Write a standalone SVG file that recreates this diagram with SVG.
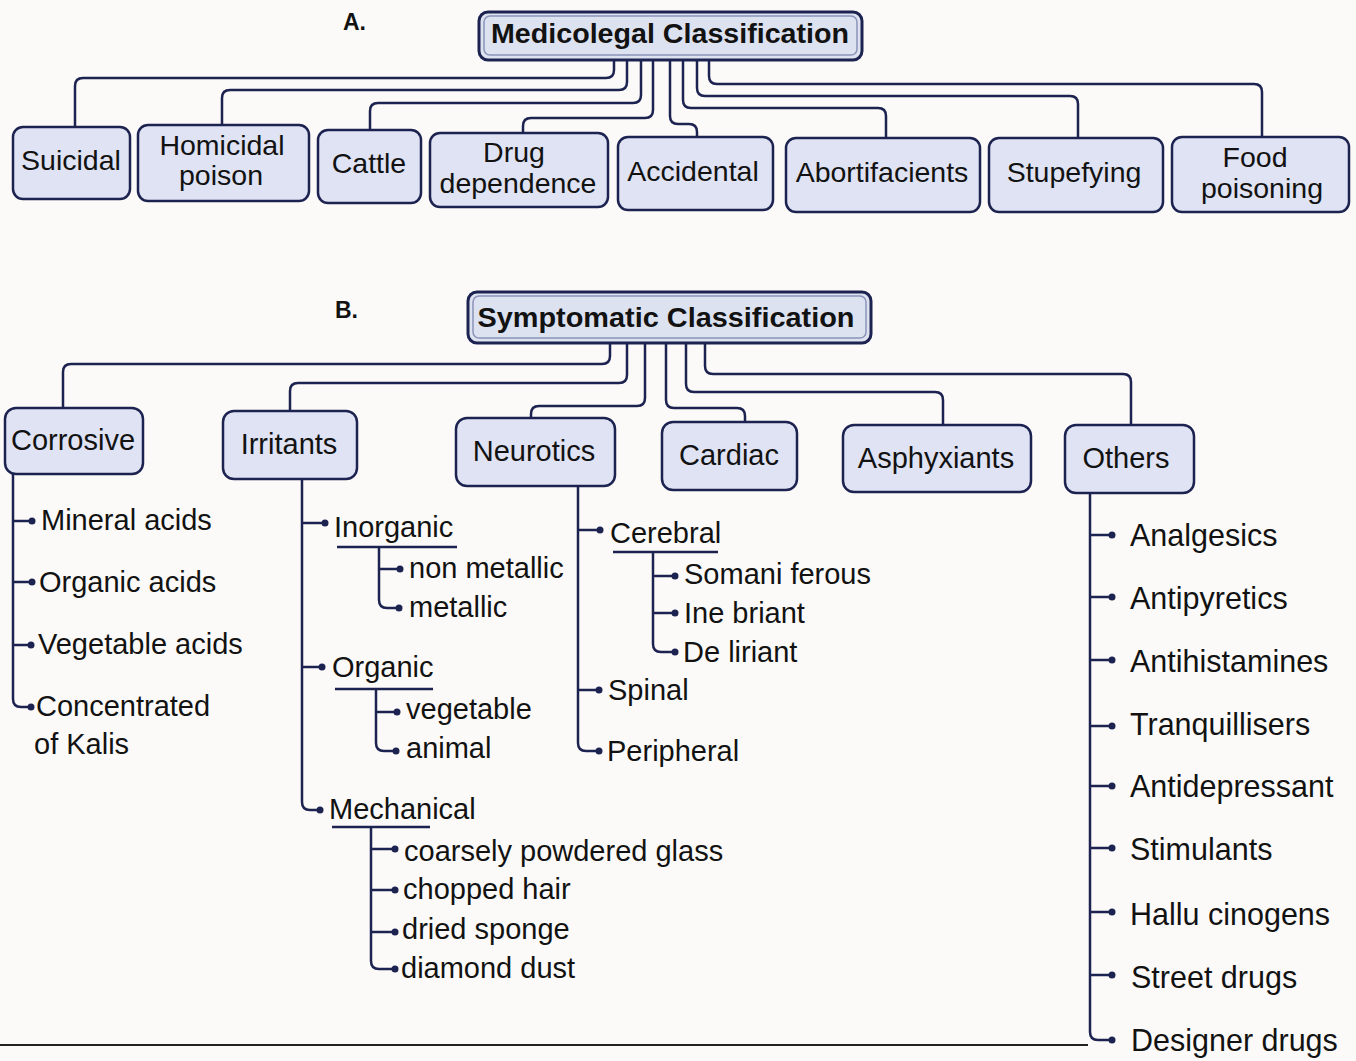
<svg xmlns="http://www.w3.org/2000/svg" width="1356" height="1061" viewBox="0 0 1356 1061">
  <style>
    text { font-family: "Liberation Sans", Arial, sans-serif; fill: #121212; }
    .title { font-size: 28px; font-weight: bold; text-anchor: middle; }
    .sec { font-size: 23px; font-weight: bold; }
    .a { font-size: 28.5px; text-anchor: middle; }
    .b { font-size: 29px; text-anchor: middle; }
    .li { font-size: 29px; }
    .lr { font-size: 30.5px; }
    .box { fill: #dfe3f3; stroke: #1d2350; stroke-width: 2.5; }
    .hdr { fill: #dde2f1; stroke: #1d2350; stroke-width: 3; }
    .hdr-in { fill: none; stroke: #8b94b8; stroke-width: 1.5; }
    .ln { fill: none; stroke: #1d2350; stroke-width: 2.5; }
    .dot { fill: #1d2350; }
  </style>

  <rect width="1356" height="1061" fill="#fbfaf8"/>

  <!-- Section labels -->
  <text class="sec" x="343" y="30">A.</text>
  <text class="sec" x="335" y="318">B.</text>

  <!-- Connectors -->
  <g id="connectors">
    <!-- A: medicolegal branches -->
    <path class="ln" d="M614,56 V70 Q614,78 606,78 H83 Q75,78 75,86 V127"/>
    <path class="ln" d="M627,56 V82 Q627,90 619,90 H230 Q222,90 222,98 V125"/>
    <path class="ln" d="M641,56 V95 Q641,103 633,103 H378 Q370,103 370,111 V130"/>
    <path class="ln" d="M653,56 V110 Q653,118 645,118 H531 Q523,118 523,126 V133"/>
    <path class="ln" d="M670,56 V116 Q670,124 678,124 H689 Q697,124 697,132 V137"/>
    <path class="ln" d="M683,56 V100 Q683,108 691,108 H878 Q886,108 886,116 V138"/>
    <path class="ln" d="M697,56 V88 Q697,96 705,96 H1070 Q1078,96 1078,104 V138"/>
    <path class="ln" d="M709,56 V76 Q709,84 717,84 H1254 Q1262,84 1262,92 V137"/>

    <!-- B: symptomatic branches -->
    <path class="ln" d="M610,340 V356 Q610,364 602,364 H71 Q63,364 63,372 V408"/>
    <path class="ln" d="M627,340 V375 Q627,383 619,383 H298 Q290,383 290,391 V411"/>
    <path class="ln" d="M645,340 V398 Q645,406 637,406 H539 Q531,406 531,414 V418"/>
    <path class="ln" d="M666,340 V400 Q666,408 674,408 H737 Q745,408 745,416 V422"/>
    <path class="ln" d="M686,340 V384 Q686,392 694,392 H935 Q943,392 943,400 V425"/>
    <path class="ln" d="M705,340 V366 Q705,374 713,374 H1123 Q1131,374 1131,382 V425"/>

    <!-- Corrosive list -->
    <path class="ln" d="M13,474 V699 Q13,707 21,707 H30 M13,521 H30 M13,582 H30 M13,645 H30"/>
    <!-- Irritants list -->
    <path class="ln" d="M302,479 V802 Q302,810 310,810 H318 M302,523 H322 M302,667 H320"/>
    <path class="ln" d="M337,547 H457 M379,547 V600 Q379,608 387,608 H396 M379,569 H397"/>
    <path class="ln" d="M335,689 H433 M376,689 V743 Q376,751 384,751 H393 M376,712 H394"/>
    <path class="ln" d="M332,827 H430 M371,827 V961 Q371,969 379,969 H392 M371,849 H392 M371,890 H392 M371,932 H392"/>
    <!-- Neurotics list -->
    <path class="ln" d="M578,486 V743 Q578,751 586,751 H596 M578,530 H597 M578,690 H596"/>
    <path class="ln" d="M613,552 H718 M653,552 V644 Q653,652 661,652 H672 M653,576 H672 M653,613 H672"/>
    <!-- Others list -->
    <path class="ln" d="M1090,493 V1032 Q1090,1040 1098,1040 H1110 M1090,535 H1110 M1090,597 H1110 M1090,660 H1110 M1090,726 H1110 M1090,786 H1110 M1090,848 H1110 M1090,912 H1110 M1090,975 H1110"/>

    <!-- header dots -->
    <g class="dot">
      <circle cx="614" cy="56" r="4"/><circle cx="627" cy="56" r="4"/>
      <circle cx="641" cy="56" r="4"/><circle cx="653" cy="56" r="4"/>
      <circle cx="670" cy="56" r="4"/><circle cx="683" cy="56" r="4"/>
      <circle cx="697" cy="56" r="4"/><circle cx="709" cy="56" r="4"/>
      <circle cx="610" cy="340" r="4"/><circle cx="627" cy="340" r="4"/>
      <circle cx="645" cy="340" r="4"/><circle cx="666" cy="340" r="4"/>
      <circle cx="686" cy="340" r="4"/><circle cx="705" cy="340" r="4"/>
    </g>
    <!-- list bullet dots -->
    <g class="dot">
      <circle cx="32" cy="521" r="3.5"/><circle cx="32" cy="582" r="3.5"/>
      <circle cx="31" cy="645" r="3.5"/><circle cx="31" cy="707" r="3.5"/>
      <circle cx="325" cy="523" r="3.5"/><circle cx="400" cy="569" r="3.5"/>
      <circle cx="399" cy="608" r="3.5"/><circle cx="322" cy="667" r="3.5"/>
      <circle cx="397" cy="712" r="3.5"/><circle cx="396" cy="751" r="3.5"/>
      <circle cx="320" cy="810" r="3.5"/>
      <circle cx="395" cy="849" r="3.5"/><circle cx="395" cy="890" r="3.5"/>
      <circle cx="395" cy="932" r="3.5"/><circle cx="395" cy="969" r="3.5"/>
      <circle cx="600" cy="530" r="3.5"/><circle cx="675" cy="576" r="3.5"/>
      <circle cx="675" cy="613" r="3.5"/><circle cx="675" cy="652" r="3.5"/>
      <circle cx="599" cy="690" r="3.5"/><circle cx="599" cy="751" r="3.5"/>
      <circle cx="1112" cy="535" r="3.5"/><circle cx="1112" cy="597" r="3.5"/>
      <circle cx="1112" cy="660" r="3.5"/><circle cx="1112" cy="726" r="3.5"/>
      <circle cx="1112" cy="786" r="3.5"/><circle cx="1112" cy="848" r="3.5"/>
      <circle cx="1112" cy="912" r="3.5"/><circle cx="1112" cy="975" r="3.5"/>
      <circle cx="1112" cy="1040" r="3.5"/>
    </g>
  </g>

  <!-- A. Medicolegal classification -->
  <g id="medicolegal">
    <rect class="hdr" x="479" y="12" width="383" height="48" rx="9"/>
    <rect class="hdr-in" x="484" y="16" width="373" height="39" rx="6"/>
    <text class="title" x="670" y="43" textLength="358" lengthAdjust="spacingAndGlyphs">Medicolegal Classification</text>
  </g>
  <g id="suicidal">
    <rect class="box" x="13" y="127" width="117" height="72" rx="10"/>
    <text class="a" x="71" y="170">Suicidal</text>
  </g>
  <g id="homicidal">
    <rect class="box" x="138" y="125" width="171" height="76" rx="10"/>
    <text class="a" x="222" y="155">Homicidal</text>
    <text class="a" x="221" y="185">poison</text>
  </g>
  <g id="cattle">
    <rect class="box" x="318" y="130" width="103" height="73" rx="10"/>
    <text class="a" x="369" y="173">Cattle</text>
  </g>
  <g id="drug-dependence">
    <rect class="box" x="430" y="133" width="178" height="74" rx="10"/>
    <text class="a" x="514" y="162">Drug</text>
    <text class="a" x="518" y="193">dependence</text>
  </g>
  <g id="accidental">
    <rect class="box" x="618" y="137" width="155" height="73" rx="10"/>
    <text class="a" x="693" y="181">Accidental</text>
  </g>
  <g id="abortifacients">
    <rect class="box" x="786" y="138" width="194" height="74" rx="10"/>
    <text class="a" x="882" y="182">Abortifacients</text>
  </g>
  <g id="stupefying">
    <rect class="box" x="989" y="138" width="174" height="74" rx="10"/>
    <text class="a" x="1074" y="182">Stupefying</text>
  </g>
  <g id="food-poisoning">
    <rect class="box" x="1172" y="137" width="177" height="75" rx="10"/>
    <text class="a" x="1255" y="167">Food</text>
    <text class="a" x="1262" y="198">poisoning</text>
  </g>

  <!-- B. Symptomatic classification -->
  <g id="symptomatic">
    <rect class="hdr" x="468" y="292" width="403" height="51" rx="9"/>
    <rect class="hdr-in" x="473" y="296" width="393" height="42" rx="6"/>
    <text class="title" x="666" y="327" textLength="377" lengthAdjust="spacingAndGlyphs">Symptomatic Classification</text>
  </g>
  <g id="corrosive">
    <rect class="box" x="5" y="408" width="138" height="66" rx="11"/>
    <text class="b" x="73" y="450">Corrosive</text>
  </g>
  <g id="irritants">
    <rect class="box" x="223" y="411" width="134" height="68" rx="11"/>
    <text class="b" x="289" y="454">Irritants</text>
  </g>
  <g id="neurotics">
    <rect class="box" x="456" y="418" width="159" height="68" rx="11"/>
    <text class="b" x="534" y="461">Neurotics</text>
  </g>
  <g id="cardiac">
    <rect class="box" x="662" y="422" width="135" height="68" rx="11"/>
    <text class="b" x="729" y="465">Cardiac</text>
  </g>
  <g id="asphyxiants">
    <rect class="box" x="843" y="425" width="188" height="67" rx="11"/>
    <text class="b" x="936" y="468">Asphyxiants</text>
  </g>
  <g id="others">
    <rect class="box" x="1065" y="425" width="129" height="68" rx="11"/>
    <text class="b" x="1126" y="468">Others</text>
  </g>

  <!-- Corrosive items -->
  <g id="corrosive-items">
    <text class="li" x="41" y="530">Mineral acids</text>
    <text class="li" x="39" y="592">Organic acids</text>
    <text class="li" x="38" y="654">Vegetable acids</text>
    <text class="li" x="36" y="716">Concentrated</text>
    <text class="li" x="34" y="754">of Kalis</text>
  </g>

  <!-- Irritants items -->
  <g id="irritants-items">
    <text class="li" x="334" y="537">Inorganic</text>
    <text class="li" x="409" y="578">non metallic</text>
    <text class="li" x="409" y="617">metallic</text>
    <text class="li" x="332" y="677">Organic</text>
    <text class="li" x="406" y="719">vegetable</text>
    <text class="li" x="406" y="758">animal</text>
    <text class="li" x="329" y="819">Mechanical</text>
    <text class="li" x="404" y="861">coarsely powdered glass</text>
    <text class="li" x="403" y="899">chopped hair</text>
    <text class="li" x="402" y="939">dried sponge</text>
    <text class="li" x="401" y="978">diamond dust</text>
  </g>

  <!-- Neurotics items -->
  <g id="neurotics-items">
    <text class="li" x="610" y="543">Cerebral</text>
    <text class="li" x="684" y="584">Somani ferous</text>
    <text class="li" x="684" y="623">Ine briant</text>
    <text class="li" x="683" y="662">De liriant</text>
    <text class="li" x="608" y="700">Spinal</text>
    <text class="li" x="607" y="761">Peripheral</text>
  </g>

  <!-- Others items -->
  <g id="others-items">
    <text class="lr" x="1130" y="546">Analgesics</text>
    <text class="lr" x="1130" y="609">Antipyretics</text>
    <text class="lr" x="1130" y="672">Antihistamines</text>
    <text class="lr" x="1130" y="735">Tranquillisers</text>
    <text class="lr" x="1130" y="797">Antidepressant</text>
    <text class="lr" x="1130" y="860">Stimulants</text>
    <text class="lr" x="1130" y="925">Hallu cinogens</text>
    <text class="lr" x="1131" y="988">Street drugs</text>
    <text class="lr" x="1131" y="1051">Designer drugs</text>
  </g>

  <!-- page rule -->
  <line x1="0" y1="1045" x2="1088" y2="1045" stroke="#222" stroke-width="2"/>
</svg>
